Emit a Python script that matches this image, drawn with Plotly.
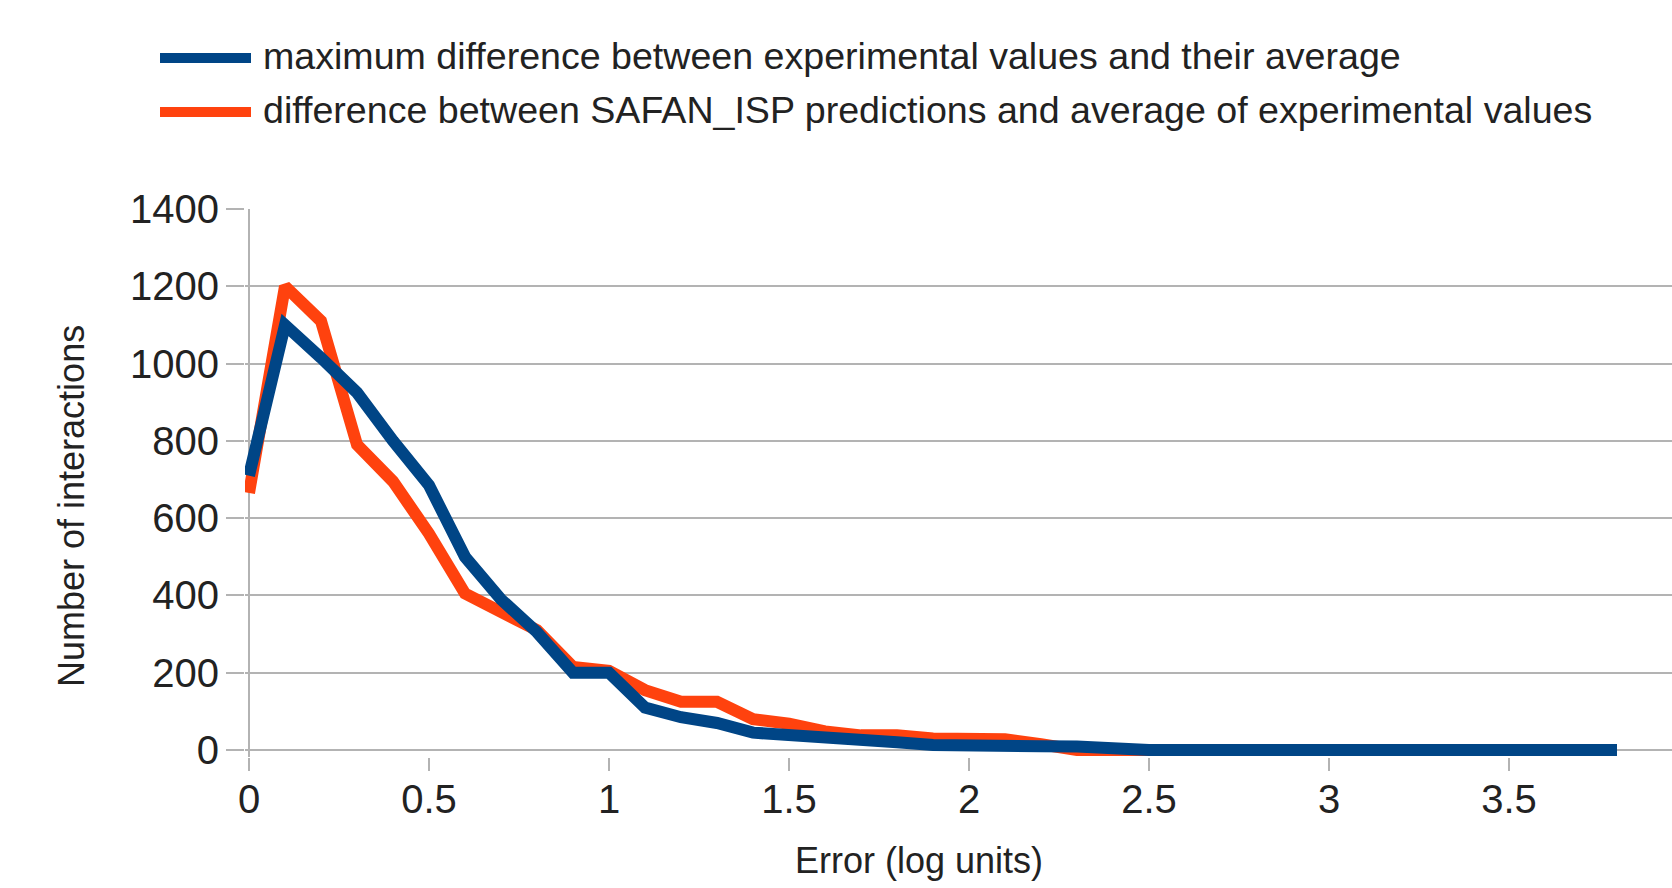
import plotly.graph_objects as go

# ---- data ----
error_bins = [round(0.1 * i, 1) for i in range(39)]  # 0.0 .. 3.8 log units

max_diff_counts = [710, 1100, 1015, 925, 800, 685, 500, 390, 305, 200,
                   200, 110, 85, 70, 45, 40, 36, 30, 20, 13,
                   10, 10, 10, 9, 3, 0, 0, 0, 0, 0,
                   0, 0, 0, 0, 0, 0, 0, 0, 0]

safan_counts = [665, 1200, 1110, 790, 695, 560, 405, 355, 310, 215,
                205, 155, 125, 125, 80, 68, 48, 38, 38, 30,
                28, 28, 15, 0, 0, 0, 0, 0, 0, 0,
                0, 0, 0, 0, 0, 0, 0, 0, 0]

series_names = ["maximum difference between experimental values and their average",
                "difference between SAFAN_ISP predictions and average of experimental values"]
series_colors = ["#004586", "#ff420e"]

y_ticks = [0, 200, 400, 600, 800, 1000, 1200, 1400]
x_ticks = [0, 0.5, 1, 1.5, 2, 2.5, 3, 3.5]
x_tick_text = ["0", "0.5", "1", "1.5", "2", "2.5", "3", "3.5"]

x_title = "Error (log units)"
y_title = "Number of interactions"

# ---- layout geometry (pixels) ----
W, H = 1672, 888
ML, MR, MT, MB = 245, 0, 209, 131
PW, PH = W - ML - MR, H - MT - MB


def px_x(px):
    return (px - ML) / PW


def px_y(py):
    return (H - MB - py) / PH


FONT = "Liberation Sans, Arial, sans-serif"
GRID = "#b3b3b3"
TXT = "#222222"

fig = go.Figure()
# orange drawn first so the blue series sits on top
fig.add_trace(go.Scatter(x=error_bins, y=safan_counts, mode="lines",
                         name=series_names[1],
                         line=dict(color=series_colors[1], width=12),
                         showlegend=False))
fig.add_trace(go.Scatter(x=error_bins, y=max_diff_counts, mode="lines",
                         name=series_names[0],
                         line=dict(color=series_colors[0], width=12),
                         showlegend=False))

fig.update_layout(
    width=W, height=H,
    margin=dict(l=ML, r=MR, t=MT, b=MB, pad=0),
    paper_bgcolor="white", plot_bgcolor="white",
    font=dict(family=FONT, color=TXT),
    showlegend=False,
    xaxis=dict(range=[-(249 - ML) / 360, (W - 249) / 360],
               tickvals=x_ticks, ticktext=x_tick_text,
               showgrid=False, showline=False,
               zeroline=True, zerolinecolor=GRID, zerolinewidth=2,
               ticks="outside", ticklen=13, tickwidth=2, tickcolor=GRID,
               tickfont=dict(size=40, family=FONT, color=TXT),
               ticklabelstandoff=-6,
               automargin=False, fixedrange=True),
    yaxis=dict(range=[-18, 1400], tickvals=y_ticks,
               showgrid=True, gridcolor=GRID, gridwidth=2,
               zeroline=False, showline=False,
               ticks="outside", ticklen=18, tickwidth=2, tickcolor=GRID,
               tickfont=dict(size=40, family=FONT, color=TXT),
               ticklabelstandoff=-1,
               automargin=False, fixedrange=True),
)

# axis titles
fig.add_annotation(text=x_title, xref="paper", yref="paper",
                   x=px_x(919), y=px_y(860), xanchor="center", yanchor="middle",
                   showarrow=False, font=dict(size=36, family=FONT, color=TXT))
fig.add_annotation(text=y_title, xref="paper", yref="paper", textangle=-90,
                   x=px_x(71), y=px_y(506), xanchor="center", yanchor="middle",
                   showarrow=False, font=dict(size=36, family=FONT, color=TXT))

# legend (drawn manually to match the long swatches of the reference)
legend_rows = [58, 112]
for name, color, ry in zip(series_names, series_colors, legend_rows):
    fig.add_shape(type="line", xref="paper", yref="paper",
                  x0=px_x(160), x1=px_x(251), y0=px_y(ry), y1=px_y(ry),
                  line=dict(color=color, width=10))
    fig.add_annotation(text=name, xref="paper", yref="paper",
                       x=px_x(261), y=px_y(ry - 2), xanchor="left", yanchor="middle",
                       showarrow=False, font=dict(size=37.6, family=FONT, color=TXT))

fig.write_html("out.html", config=dict(displayModeBar=False))
